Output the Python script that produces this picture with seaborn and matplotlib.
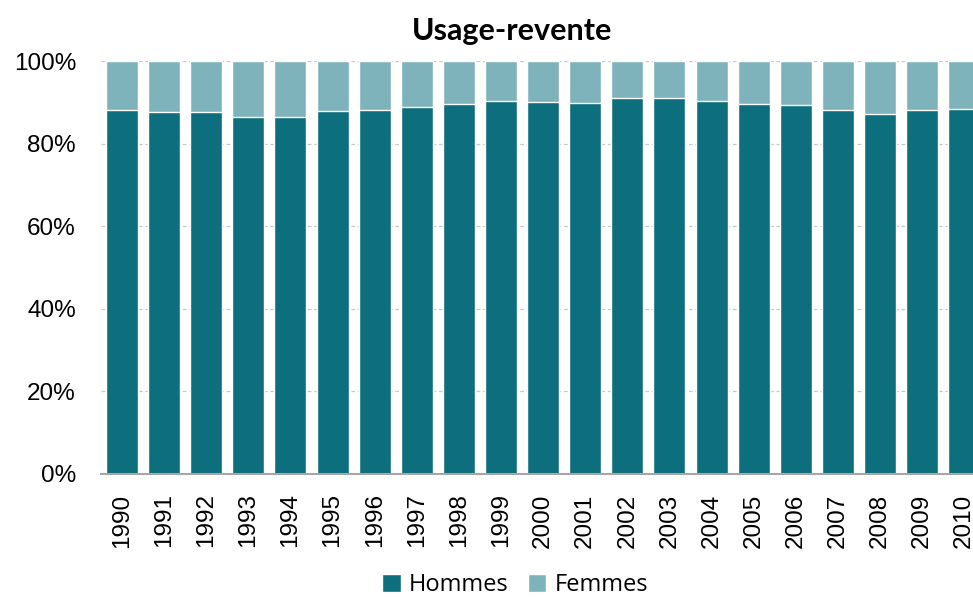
import matplotlib
matplotlib.use("Agg")
import matplotlib.pyplot as plt
from matplotlib.ticker import FuncFormatter
from matplotlib.patches import Patch
import seaborn as sns
import pandas as pd

years = [str(y) for y in range(1990, 2011)]
hommes = [88.2, 87.6, 87.6, 86.4, 86.4, 87.9, 88.1, 88.8, 89.6, 90.2, 90.1,
          89.9, 91.1, 91.1, 90.4, 89.6, 89.4, 88.2, 87.1, 88.2, 88.4]
femmes = [100 - h for h in hommes]

col_hommes = "#0D6F7E"
col_femmes = "#7FB3BC"

df = pd.DataFrame({"annee": years,
                   "hommes": [h / 100 for h in hommes],
                   "total": [(h + f) / 100 for h, f in zip(hommes, femmes)]})

sns.set_theme(style="white")
plt.rcParams["font.family"] = ["Liberation Sans", "DejaVu Sans"]

fig = plt.figure(figsize=(9.73, 5.97), dpi=100)
ax = fig.add_axes([101 / 973, (597 - 474) / 597, 872 / 973, 413 / 597])

# stacked bars: full height in light colour, men's share drawn over it
sns.barplot(data=df, x="annee", y="total", color=col_femmes, width=0.76,
            saturation=1, ax=ax, zorder=2)
sns.barplot(data=df, x="annee", y="hommes", color=col_hommes, width=0.76,
            saturation=1, ax=ax, zorder=3)

ax.set_xlim(-0.5, 20.21)
ax.set_ylim(0, 1)
ax.set_yticks([0, 0.2, 0.4, 0.6, 0.8, 1.0])
ax.yaxis.set_major_formatter(FuncFormatter(lambda v, _: f"{v * 100:.0f}%"))
ax.grid(axis="y", linestyle=(0, (3, 2)), color="#C8C8C8", linewidth=0.9, zorder=0)
ax.set_axisbelow(True)
for side in ("left", "right", "top"):
    ax.spines[side].set_visible(False)
ax.spines["bottom"].set_color("#A6A6A6")
ax.spines["bottom"].set_linewidth(1.5)
ax.spines["bottom"].set_zorder(4)
ax.set_xlabel("")
ax.set_ylabel("")
ax.tick_params(axis="x", length=0, pad=14, labelsize=17.5, labelrotation=90,
               colors="#000000")
ax.tick_params(axis="y", length=0, pad=18, labelsize=17.5, colors="#000000")

fig.text(512 / 973, 1 - 31 / 597, "Usage-revente", ha="center", va="center",
         fontsize=22, fontweight="bold", color="#000000",
         family=["Lato", "DejaVu Sans"])

handles = [Patch(facecolor=col_hommes, label="Hommes"),
           Patch(facecolor=col_femmes, label="Femmes")]
fig.legend(handles=handles, loc="center", bbox_to_anchor=(515 / 973, 1 - 585 / 597),
           ncol=2, frameon=False, handlelength=0.8, handleheight=0.8,
           handletextpad=0.35, columnspacing=0.8, labelcolor="#000000",
           prop={"family": ["Open Sans", "DejaVu Sans"], "size": 17})

fig.savefig("out.png", dpi=100)
